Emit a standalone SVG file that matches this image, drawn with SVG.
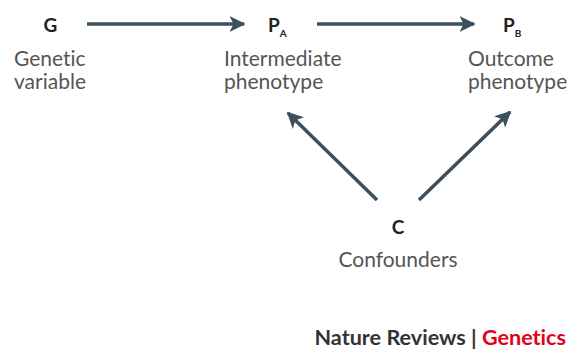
<svg xmlns="http://www.w3.org/2000/svg" width="570" height="351" viewBox="0 0 570 351">
<defs>
<marker id="ah" viewBox="0 0 10 10" refX="9" refY="5" markerWidth="4.6" markerHeight="4.6" markerUnits="strokeWidth" orient="auto">
<path d="M0,0 L10,5 L0,10 L2.5,5 Z" fill="#3b4f5c"/>
</marker>
<style>
text{font-variant-ligatures:none;font-feature-settings:"liga" 0,"clig" 0,"dlig" 0,"calt" 0}
.conn{stroke:#3b4f5c;stroke-width:3.5;fill:none;marker-end:url(#ah)}
.sym{font-family:Lato,"Open Sans",sans-serif;font-size:19px;font-weight:bold;fill:#222}
.sub{font-family:Lato,"Open Sans",sans-serif;font-size:10px;font-weight:bold;fill:#222}
.lbl{font-family:Lato,"Open Sans",sans-serif;font-size:21px;fill:#555}
.foot{font-family:Lato,"Open Sans",sans-serif;font-size:21.6px;font-weight:bold}
</style>
</defs>
<rect width="570" height="351" fill="#fff"/>
<g id="connectors">
<line class="conn" x1="87" y1="24" x2="244" y2="24"/>
<line class="conn" x1="317" y1="24" x2="474" y2="24"/>
<line class="conn" x1="377" y1="200" x2="288" y2="113"/>
<line class="conn" x1="419" y1="200" x2="510" y2="112"/>
</g>
<g id="G">
<text class="sym" x="50.5" y="32" text-anchor="middle">G</text>
<text class="lbl" x="14" y="66">Genetic</text>
<text class="lbl" x="14" y="89">variable</text>
</g>
<g id="PA">
<text class="sym" x="268" y="32">P<tspan class="sub" dy="5">A</tspan></text>
<text class="lbl" x="224" y="66">Intermediate</text>
<text class="lbl" x="224" y="89">phenotype</text>
</g>
<g id="PB">
<text class="sym" x="503" y="32">P<tspan class="sub" dy="5">B</tspan></text>
<text class="lbl" x="468" y="66">Outcome</text>
<text class="lbl" x="468" y="89">phenotype</text>
</g>
<g id="C">
<text class="sym" x="398" y="234" text-anchor="middle">C</text>
<text class="lbl" x="398" y="267" text-anchor="middle">Confounders</text>
</g>
<g id="footer">
<text class="foot" x="566" y="345" text-anchor="end" fill="#333">Nature Reviews | <tspan fill="#e3001b">Genetics</tspan></text>
</g>
</svg>
